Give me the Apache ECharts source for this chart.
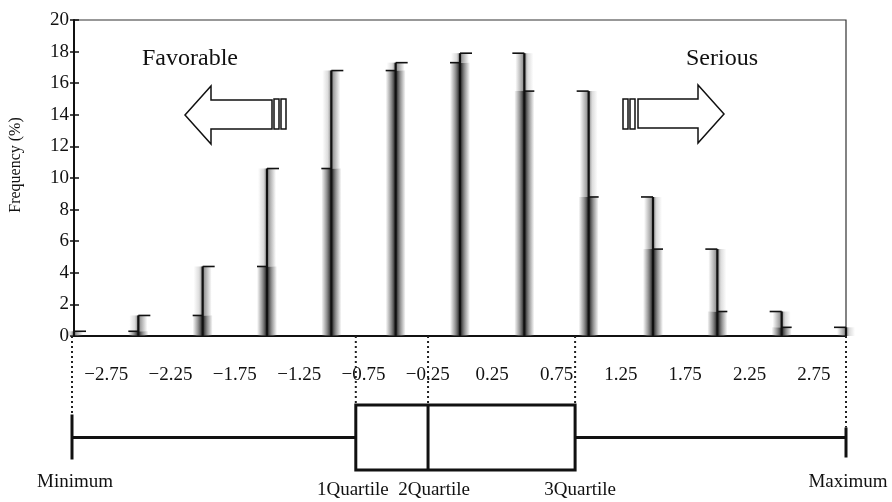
<!DOCTYPE html>
<html>
<head>
<meta charset="utf-8">
<script src="https://cdn.jsdelivr.net/npm/echarts@6/dist/echarts.min.js"></script>
<style>html,body{margin:0;padding:0;background:#fff;}#chart{width:892px;height:502px;}</style>
</head>
<body>
<div id="chart"></div>
<script>
// ---- data ----
const binEdges = [-3, -2.5, -2, -1.5, -1, -0.5, 0, 0.5, 1, 1.5, 2, 2.5, 3];
const frequency = [0.3, 1.3, 4.4, 10.6, 16.8, 17.3, 17.9, 15.5, 8.8, 5.5, 1.55, 0.55];
const xTickValues = [-2.75, -2.25, -1.75, -1.25, -0.75, -0.25, 0.25, 0.75, 1.25, 1.75, 2.25, 2.75];
const boxStats = [-3, -0.8, -0.24, 0.9, 3]; // min, Q1, median, Q3, max
const boxLabels = ['Minimum', '1Quartile', '2Quartile', '3Quartile', 'Maximum'];
const yAxisName = 'Frequency (%)';
const leftNote = 'Favorable';
const rightNote = 'Serious';

// ---- layout ----
const FONT = 'Liberation Serif, Times New Roman, serif';
const G1 = {left: 72, top: 20, right: 46, height: 316};
const G1_BOTTOM = G1.top + G1.height;
const G2 = {left: 72, top: 405, right: 46, height: 65};

const edgeRows = binEdges.map((e, i) => [e, i > 0 ? frequency[i - 1] : 0, i < frequency.length ? frequency[i] : 0]);

function fmtTick(v) {
  const r = Math.round(v * 100) / 100;
  if (!xTickValues.some(t => Math.abs(t - r) < 1e-6)) return '';
  return (r < 0 ? '\u2212' : '') + Math.abs(r).toFixed(2);
}

function grad(stops) {
  return {type: 'linear', x: 0, y: 0, x2: 1, y2: 0, colorStops: stops};
}

function renderEdge(params, api) {
  const x = api.value(0), lh = api.value(1), rh = api.value(2);
  const lo = Math.min(lh, rh), hi = Math.max(lh, rh);
  const highRight = rh >= lh;
  const p0 = api.coord([x, 0]);
  const pLo = api.coord([x, lo]);
  const pHi = api.coord([x, hi]);
  const cx = p0[0];
  const children = [];
  if (lo > 0) {
    children.push({
      type: 'rect', shape: {x: cx - 10, y: pLo[1], width: 20, height: p0[1] - pLo[1]},
      style: {fill: grad([
        {offset: 0, color: 'rgba(110,110,110,0)'},
        {offset: 0.2, color: 'rgba(110,110,110,0.55)'},
        {offset: 0.42, color: 'rgba(50,50,50,0.9)'},
        {offset: 0.58, color: 'rgba(50,50,50,0.9)'},
        {offset: 0.8, color: 'rgba(110,110,110,0.55)'},
        {offset: 1, color: 'rgba(110,110,110,0)'}
      ])}
    });
  }
  if (hi > lo) {
    const a = highRight ? 0.25 : 0.55, b = highRight ? 0.55 : 0.25;
    children.push({
      type: 'rect', shape: {x: cx - 9, y: pHi[1], width: 18, height: pLo[1] - pHi[1]},
      style: {fill: grad([
        {offset: 0, color: 'rgba(120,120,120,0)'},
        {offset: 0.3, color: 'rgba(120,120,120,' + a + ')'},
        {offset: 0.5, color: 'rgba(70,70,70,0.7)'},
        {offset: 0.7, color: 'rgba(120,120,120,' + b + ')'},
        {offset: 1, color: 'rgba(120,120,120,0)'}
      ])}
    });
  }
  children.push({type: 'line', shape: {x1: cx, y1: p0[1], x2: cx, y2: pHi[1]}, style: {stroke: '#111', lineWidth: 2.2}});
  const dir = highRight ? 1 : -1;
  children.push({type: 'line', shape: {x1: cx, y1: pHi[1], x2: cx + dir * 12, y2: pHi[1]}, style: {stroke: '#111', lineWidth: 1.6}});
  if (lo > 0 && hi > lo) {
    children.push({type: 'line', shape: {x1: cx, y1: pLo[1], x2: cx - dir * 10, y2: pLo[1]}, style: {stroke: '#111', lineWidth: 1.6}});
  }
  return {type: 'group', children};
}

function renderBox(params, api) {
  const vals = [0, 1, 2, 3, 4].map(k => api.value(k));
  const xs = vals.map(v => api.coord([v, 0.5])[0]);
  const yMid = api.coord([0, 0.5])[1];
  const yTop = api.coord([0, 1])[1];
  const yBot = api.coord([0, 0])[1];
  const ln = (x1, y1, x2, y2, extra) => ({type: 'line', shape: {x1, y1, x2, y2}, style: Object.assign({stroke: '#111', lineWidth: 3}, extra || {})});
  const dot = {lineWidth: 2, lineDash: [2, 3], stroke: '#222'};
  const minTop = yMid - 23, minBot = yMid + 22, maxTop = yMid - 10, maxBot = yMid + 20;
  const children = [
    ln(xs[0], G1_BOTTOM, xs[0], minTop, dot),
    ln(xs[1], G1_BOTTOM, xs[1], yTop, dot),
    ln(xs[2], G1_BOTTOM, xs[2], yTop, dot),
    ln(xs[3], G1_BOTTOM, xs[3], yTop, dot),
    ln(xs[4], G1_BOTTOM, xs[4], maxTop, dot),
    ln(xs[0], yMid, xs[1], yMid),
    ln(xs[3], yMid, xs[4], yMid),
    {type: 'rect', shape: {x: xs[1], y: yTop, width: xs[3] - xs[1], height: yBot - yTop}, style: {fill: 'none', stroke: '#111', lineWidth: 3}},
    ln(xs[2], yTop, xs[2], yBot),
    ln(xs[0], minTop, xs[0], minBot),
    ln(xs[4], maxTop, xs[4], maxBot)
  ];
  const labelY = [482, 490, 490, 490, 482];
  const labelDx = [3, -3, 6, 5, 2];
  boxLabels.forEach((t, k) => {
    children.push({type: 'text', x: xs[k] + labelDx[k], y: labelY[k], style: {text: t, fill: '#111', font: '19px ' + FONT, align: 'center', verticalAlign: 'middle'}});
  });
  return {type: 'group', children};
}

const chart = echarts.init(document.getElementById('chart'), null, {renderer: 'canvas'});
chart.setOption({
  backgroundColor: '#fff',
  animation: false,
  grid: [
    Object.assign({show: true, borderColor: '#333', borderWidth: 1.2, backgroundColor: 'transparent'}, G1),
    Object.assign({show: false}, G2)
  ],
  xAxis: [
    {
      type: 'value', gridIndex: 0, min: -3, max: 3, interval: 0.25,
      axisLine: {show: true, onZero: false, lineStyle: {color: '#111', width: 2}},
      axisTick: {show: false},
      splitLine: {show: false},
      axisLabel: {show: true, margin: 30, color: '#111', fontSize: 19, fontFamily: FONT, formatter: fmtTick, showMinLabel: false, showMaxLabel: false, hideOverlap: false}
    },
    {type: 'value', gridIndex: 1, min: -3, max: 3, show: false}
  ],
  yAxis: [
    {
      type: 'value', gridIndex: 0, min: 0, max: 20, interval: 2,
      name: yAxisName, nameLocation: 'middle', nameGap: 50, nameRotate: 90,
      nameTextStyle: {fontSize: 16, fontFamily: FONT, color: '#111', padding: [0, 0, 0, 26]},
      axisLine: {show: true, onZero: false, lineStyle: {color: '#111', width: 2}},
      axisTick: {show: true, inside: false, length: 4, lineStyle: {color: '#111', width: 1.5}},
      splitLine: {show: false},
      axisLabel: {color: '#111', fontSize: 19, fontFamily: FONT, margin: 5}
    },
    {
      type: 'value', gridIndex: 0, min: 0, max: 20, interval: 2, position: 'left',
      axisLine: {show: false, onZero: false}, axisLabel: {show: false}, splitLine: {show: false},
      axisTick: {show: true, inside: true, length: 5, lineStyle: {color: '#111', width: 1.5}}
    },
    {type: 'value', gridIndex: 1, min: 0, max: 1, show: false}
  ],
  graphic: [
    {type: 'text', left: 142, top: 47, style: {text: leftNote, font: '24px ' + FONT, fill: '#111'}},
    {type: 'text', left: 686, top: 47, style: {text: rightNote, font: '24px ' + FONT, fill: '#111'}},
    {type: 'polygon', shape: {points: [[185, 115], [211, 86], [211, 100], [272, 100], [272, 129], [211, 129], [211, 144]]}, style: {fill: '#fff', stroke: '#111', lineWidth: 1.5}},
    {type: 'rect', shape: {x: 274, y: 99, width: 5, height: 30}, style: {fill: '#fff', stroke: '#111', lineWidth: 1.5}},
    {type: 'rect', shape: {x: 281, y: 99, width: 5, height: 30}, style: {fill: '#fff', stroke: '#111', lineWidth: 1.5}},
    {type: 'polygon', shape: {points: [[724, 114], [698, 85], [698, 99], [638, 99], [638, 128], [698, 128], [698, 143]]}, style: {fill: '#fff', stroke: '#111', lineWidth: 1.5}},
    {type: 'rect', shape: {x: 623, y: 99, width: 5, height: 30}, style: {fill: '#fff', stroke: '#111', lineWidth: 1.5}},
    {type: 'rect', shape: {x: 630, y: 99, width: 5, height: 30}, style: {fill: '#fff', stroke: '#111', lineWidth: 1.5}}
  ],
  series: [
    {type: 'custom', xAxisIndex: 0, yAxisIndex: 0, data: edgeRows, renderItem: renderEdge, encode: {x: 0, y: [1, 2]}, z: 3},
    {type: 'custom', xAxisIndex: 1, yAxisIndex: 2, data: [boxStats], renderItem: renderBox, encode: {x: [0, 1, 2, 3, 4]}, clip: false, z: 4}
  ]
});
</script>
</body>
</html>
